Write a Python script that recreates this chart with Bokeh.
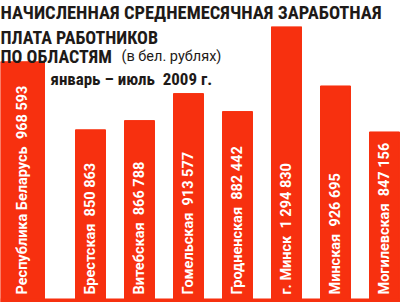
import math
from bokeh.plotting import figure
from bokeh.models import Range1d, Label, BoxAnnotation
from bokeh.core.properties import value
from bokeh.embed import file_html
from bokeh.resources import INLINE

# ---- data ----
regions = ["Республика Беларусь", "Брестская", "Витебская", "Гомельская",
           "Гродненская", "г. Минск", "Минская", "Могилевская"]
salaries = [968593, 850863, 866788, 913577, 882442, 1294830, 926695, 847156]
title_lines = ["НАЧИСЛЕННАЯ СРЕДНЕМЕСЯЧНАЯ ЗАРАБОТНАЯ", "ПЛАТА РАБОТНИКОВ", "ПО ОБЛАСТЯМ"]
unit_note = "(в бел. рублях)"
period = "январь – июль\u00a0 2009 г."

RED = "#F7300F"
DARK = "#1E1A18"
COND = "Roboto Condensed"
SANS = "Roboto"

def fmt(v):
    return f"{v:,}".replace(",", " ")

labels = [f"{r}\u00a0 {fmt(v)}" for r, v in zip(regions, salaries)]

# layout of the bars (the national total is drawn wider, at the far left)
centers = [-0.388] + [float(i) for i in range(1, len(regions))]
widths = [0.898] + [0.612] * (len(regions) - 1)

Y_LO, Y_HI = 552100, 1029600
BASE = 559000

p = figure(width=400, height=302, output_backend="svg", toolbar_location=None,
           x_range=Range1d(-41 / 49, 359 / 49), y_range=Range1d(Y_LO, Y_HI),
           x_axis_type=None, y_axis_type=None,
           min_border_left=0, min_border_right=0, min_border_top=26, min_border_bottom=0)
p.grid.visible = False
p.outline_line_color = None
p.background_fill_color = "white"
p.border_fill_color = "white"

p.title.text = title_lines[0]
p.title.align = "left"
p.title.vertical_align = "top"
p.title.offset = 0
p.title.standoff = 2
p.title.text_font = COND
p.title.text_font_size = "18.5px"
p.title.text_font_style = "bold"
p.title.text_color = DARK

p.vbar(x=centers, width=widths, bottom=0, top=salaries, color=RED)
p.add_layout(BoxAnnotation(top=BASE, fill_color=RED, fill_alpha=1.0, line_alpha=0))

p.text(x=centers, y=[BASE] * len(regions), text=labels, angle=math.pi / 2,
       text_align="left", text_baseline="middle", text_color="white",
       text_font=value(SANS), text_font_size="14.5px", text_font_style="bold",
       y_offset=-4)

# remaining title lines (screen units measured from the frame bottom)
for t, yy in zip(title_lines[1:], [265, 246]):
    p.add_layout(Label(x=0, y=yy, x_units="screen", y_units="screen", text=t,
                       text_font=COND, text_font_size="18px", text_font_style="bold",
                       text_color=DARK, text_baseline="alphabetic"))
p.add_layout(Label(x=121, y=246, x_units="screen", y_units="screen", text=unit_note,
                   text_font=SANS, text_font_size="14.5px",
                   text_color=DARK, text_baseline="alphabetic"))
p.add_layout(Label(x=50, y=224, x_units="screen", y_units="screen", text=period,
                   text_font=COND, text_font_size="17px", text_font_style="bold",
                   text_color=DARK, text_baseline="alphabetic"))

open("out.html", "w").write(file_html(p, INLINE))
